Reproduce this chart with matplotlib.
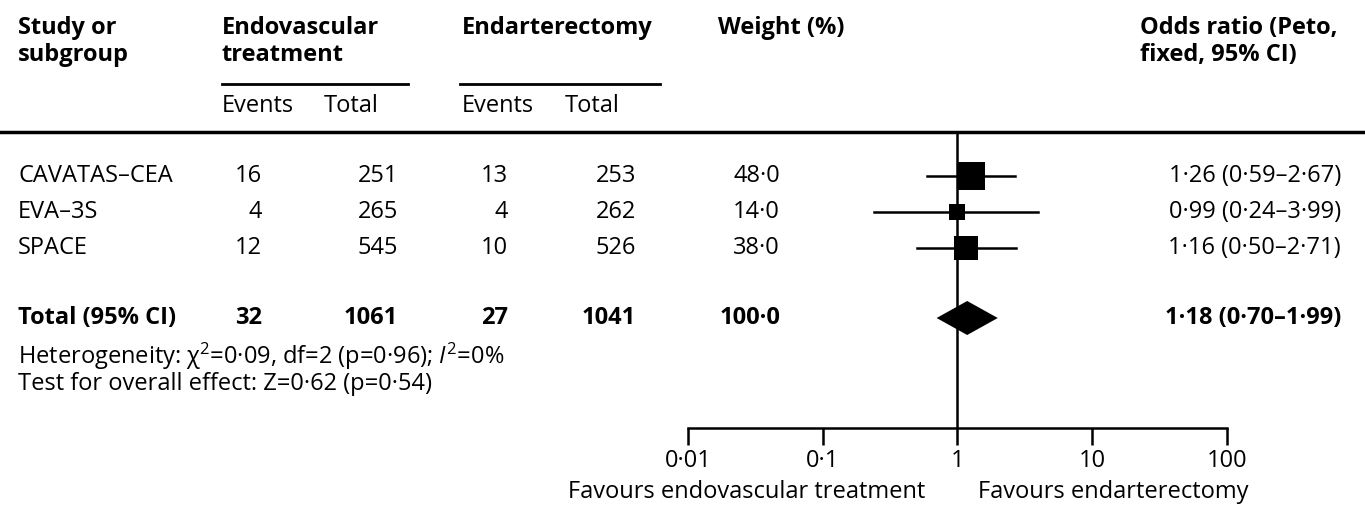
import matplotlib
matplotlib.use("Agg")
import matplotlib.pyplot as plt

# --- data ---------------------------------------------------------------

studies = ["CAVATAS\u2013CEA", "EVA\u20133S", "SPACE"]
endo_events = [16, 4, 12]
endo_total = [251, 265, 545]
endart_events = [13, 4, 10]
endart_total = [253, 262, 526]
weights = [48.0, 14.0, 38.0]
odds = [1.26, 0.99, 1.16]
ci_low = [0.59, 0.24, 0.50]
ci_high = [2.67, 3.99, 2.71]

total_label = "Total (95% CI)"
total_counts = [32, 1061, 27, 1041]
total_weight = 100.0
total_or = 1.18
total_low = 0.70
total_high = 1.99

het_text = "Heterogeneity: \u03c7$^2$=0\u00b709, df=2 (p=0\u00b796); $I^2$=0%"
effect_text = "Test for overall effect: Z=0\u00b762 (p=0\u00b754)"

tick_values = [0.01, 0.1, 1, 10, 100]
tick_labels = ["0\u00b701", "0\u00b71", "1", "10", "100"]


def dot(v, fmt):
    return format(v, fmt).replace(".", "\u00b7")


# --- figure -------------------------------------------------------------

plt.rcParams["font.family"] = ["Open Sans", "DejaVu Sans"]
plt.rcParams["mathtext.fontset"] = "custom"
plt.rcParams["mathtext.rm"] = "Open Sans"
plt.rcParams["mathtext.it"] = "Open Sans:italic"

W, H = 1365, 508
fig = plt.figure(figsize=(W / 100, H / 100), dpi=100)

# background axes in pixel units (y down) for the table text
bg = fig.add_axes([0, 0, 1, 1])
bg.set_xlim(0, W)
bg.set_ylim(H, 0)
bg.set_axis_off()

fs = 17
row_y = [176, 212, 248]
total_y = 318
axis_y = 428

# header
bold = dict(fontsize=fs, fontweight="bold", va="center")
bg.text(18, 28, "Study or", **bold)
bg.text(18, 55, "subgroup", **bold)
bg.text(222, 28, "Endovascular", **bold)
bg.text(222, 55, "treatment", **bold)
bg.text(462, 28, "Endarterectomy", **bold)
bg.text(718, 28, "Weight (%)", **bold)
bg.text(1140, 28, "Odds ratio (Peto,", **bold)
bg.text(1140, 55, "fixed, 95% CI)", **bold)
bg.plot([222, 408], [84, 84], color="black", lw=2)
bg.plot([460, 660], [84, 84], color="black", lw=2)
norm = dict(fontsize=fs, va="center")
bg.text(222, 106, "Events", **norm)
bg.text(324, 106, "Total", **norm)
bg.text(462, 106, "Events", **norm)
bg.text(565, 106, "Total", **norm)
bg.plot([0, W], [132, 132], color="black", lw=2.5)

# study rows
cols_x = [262, 398, 508, 636]
for i, name in enumerate(studies):
    y = row_y[i]
    bg.text(18, y, name, **norm)
    vals = [endo_events[i], endo_total[i], endart_events[i], endart_total[i]]
    for x, v in zip(cols_x, vals):
        bg.text(x, y, str(v), ha="right", **norm)
    bg.text(780, y, dot(weights[i], ".1f"), ha="right", **norm)
    bg.text(1341, y, "%s (%s\u2013%s)" % (dot(odds[i], ".2f"), dot(ci_low[i], ".2f"),
                                           dot(ci_high[i], ".2f")), ha="right", **norm)

bg.text(18, total_y, total_label, **bold)
for x, v in zip(cols_x, total_counts):
    bg.text(x, total_y, str(v), ha="right", **bold)
bg.text(780, total_y, dot(total_weight, ".1f"), ha="right", **bold)
bg.text(1341, total_y, "%s (%s\u2013%s)" % (dot(total_or, ".2f"), dot(total_low, ".2f"),
                                             dot(total_high, ".2f")), ha="right", **bold)

bg.text(18, 356, het_text, **norm)
bg.text(18, 384, effect_text, **norm)

# forest axes: log scale, spans pixel x 688..1227, y 0..axis_y
x0, x1 = 688, 1227
ax = fig.add_axes([x0 / W, (H - axis_y) / H, (x1 - x0) / W, axis_y / H])
ax.set_xscale("log")
ax.set_xlim(tick_values[0], tick_values[-1])
ax.set_ylim(axis_y, 0)
ax.patch.set_alpha(0)
for s in ["top", "left", "right"]:
    ax.spines[s].set_visible(False)
ax.spines["bottom"].set_linewidth(1.8)
ax.set_yticks([])
ax.set_xticks(tick_values)
ax.set_xticklabels(tick_labels, fontsize=fs)
ax.xaxis.set_minor_locator(matplotlib.ticker.NullLocator())
ax.tick_params(axis="x", direction="out", length=12, width=1.8, pad=3)

ax.plot([1, 1], [133, axis_y], color="black", lw=1.8)
for i in range(len(studies)):
    ax.plot([ci_low[i], ci_high[i]], [row_y[i], row_y[i]], color="black", lw=1.8)
    ax.plot(odds[i], row_y[i], marker="s", color="black",
            ms=2.9 * weights[i] ** 0.5, mew=0)
ax.fill([total_low, total_or, total_high, total_or],
        [total_y, total_y - 17, total_y, total_y + 17], color="black", lw=0)

bg.text(568, 492, "Favours endovascular treatment", **norm)
bg.text(978, 492, "Favours endarterectomy", **norm)

fig.savefig("out.png", dpi=100)
